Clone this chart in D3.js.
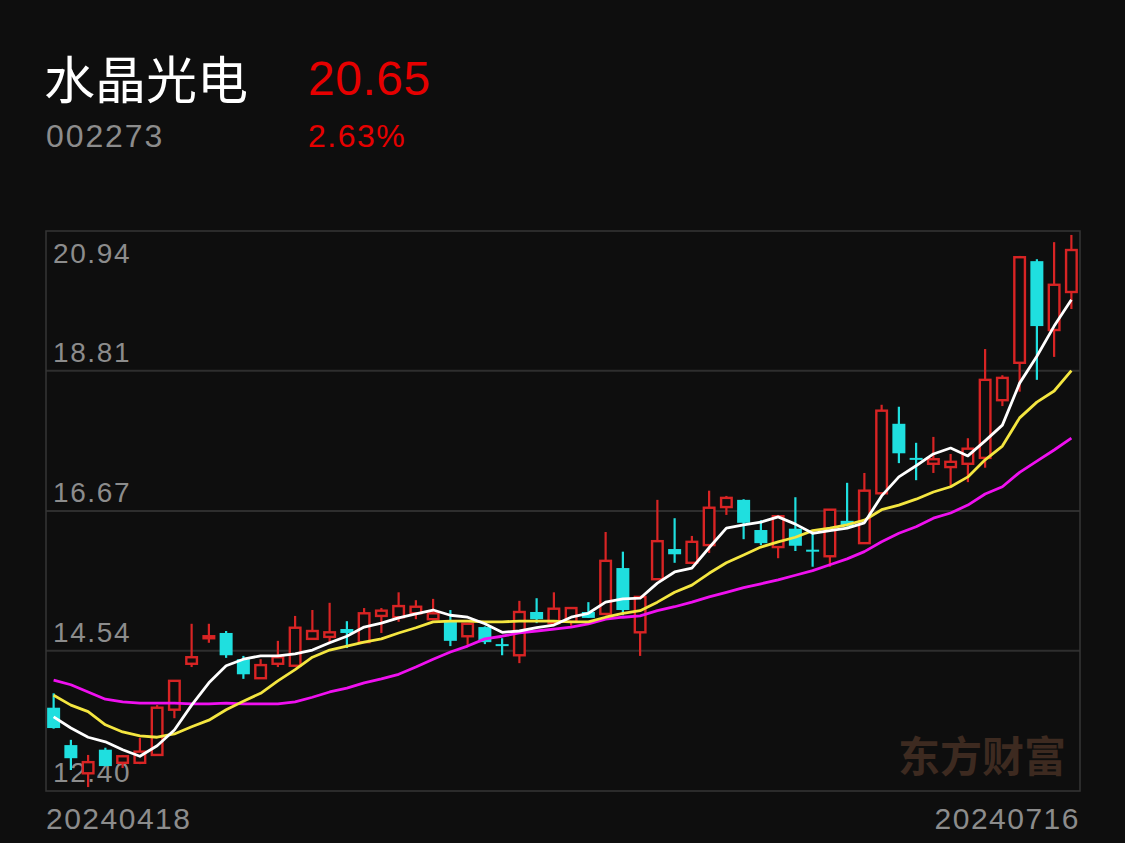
<!DOCTYPE html>
<html><head><meta charset="utf-8">
<script src="https://cdn.jsdelivr.net/npm/d3@7"></script>
<style>
html,body{margin:0;padding:0;background:#0e0e0e;}
svg{display:block;}
</style></head>
<body>
<script>
const stockName = "水晶光电";
const stockCode = "002273";
const lastPrice = "20.65";
const changePct = "2.63%";
const dates = ["20240418","20240419","20240422","20240423","20240424","20240425","20240426","20240429","20240430",
"20240506","20240507","20240508","20240509","20240510","20240513","20240514","20240515","20240516","20240517",
"20240520","20240521","20240522","20240523","20240524","20240527","20240528","20240529","20240530","20240531",
"20240603","20240604","20240605","20240606","20240607","20240611","20240612","20240613","20240614",
"20240617","20240618","20240619","20240620","20240621","20240624","20240625","20240626","20240627","20240628",
"20240701","20240702","20240703","20240704","20240705","20240708","20240709","20240710","20240711","20240712",
"20240715","20240716"];
const open  = [13.67,13.10,12.67,13.03,12.83,12.83,12.95,13.64,14.34,14.75,14.81,14.41,14.12,14.34,14.31,14.72,14.75,14.87,14.67,15.07,
15.05,15.11,15.02,14.98,14.76,14.90,14.64,14.47,15.13,14.96,14.98,15.13,15.10,15.80,14.82,15.63,16.09,15.88,16.15,16.73,
16.84,16.38,16.12,16.40,16.08,15.98,16.52,16.18,16.94,18.00,17.48,17.39,17.34,17.39,17.48,18.36,18.93,20.48,19.43,20.01];
const high  = [13.89,13.18,12.95,13.06,12.95,13.21,13.71,14.09,14.95,14.95,14.84,14.46,14.41,14.69,15.07,15.16,15.27,14.99,15.19,15.19,
15.43,15.31,15.33,15.16,14.96,14.91,14.73,15.30,15.34,15.43,15.19,15.28,16.35,16.05,15.36,16.84,16.56,16.29,16.98,16.90,
16.85,16.53,16.61,16.88,16.35,16.70,17.10,17.25,18.29,18.26,17.71,17.80,17.54,17.78,19.14,18.74,20.56,20.51,20.77,20.88];
const low   = [13.35,12.72,12.46,12.78,12.75,12.81,12.95,13.51,14.29,14.66,14.43,14.11,14.12,14.29,14.31,14.72,14.66,14.58,14.66,14.81,
14.98,15.02,15.02,14.61,14.60,14.64,14.47,14.35,14.96,14.96,14.92,15.04,15.10,15.08,14.46,15.63,15.88,15.88,16.03,16.61,
16.24,16.15,15.95,16.06,15.82,15.82,16.43,16.18,16.94,17.40,17.14,17.25,17.05,17.11,17.33,18.27,18.49,18.67,19.02,19.75];
const close = [13.36,12.90,12.84,12.78,12.93,13.00,13.67,14.08,14.44,14.76,14.47,14.18,14.32,14.44,14.89,14.84,14.82,14.81,15.11,15.15,
15.22,15.21,15.11,14.69,14.95,14.67,14.61,15.13,15.02,15.18,15.19,15.04,15.91,15.16,15.36,16.21,16.01,16.20,16.72,16.87,
16.49,16.18,16.59,16.14,16.05,16.69,16.44,16.98,18.20,17.55,17.45,17.46,17.42,17.62,18.67,18.70,20.54,19.49,20.12,20.65];
const ma5  = [13.53,13.36,13.22,13.15,13.03,12.93,13.09,13.33,13.71,14.05,14.31,14.41,14.46,14.46,14.49,14.55,14.66,14.76,14.90,14.96,
15.04,15.10,15.16,15.08,15.05,14.95,14.82,14.84,14.89,14.93,15.05,15.11,15.28,15.33,15.34,15.57,15.74,15.80,16.11,16.41,
16.46,16.50,16.58,16.47,16.33,16.37,16.41,16.49,16.90,17.19,17.36,17.54,17.63,17.51,17.74,17.98,18.62,19.03,19.49,19.89];
const ma10 = [13.86,13.71,13.61,13.41,13.30,13.24,13.22,13.27,13.38,13.48,13.64,13.77,13.89,14.08,14.25,14.44,14.55,14.61,14.67,14.72,
14.81,14.89,14.98,14.99,14.99,14.98,14.98,14.99,14.99,14.99,14.98,14.98,15.05,15.11,15.15,15.28,15.43,15.54,15.72,15.88,
16.00,16.12,16.20,16.27,16.37,16.41,16.46,16.53,16.69,16.76,16.85,16.96,17.04,17.19,17.45,17.66,18.09,18.33,18.50,18.81];
const ma20 = [14.09,14.02,13.91,13.80,13.76,13.74,13.74,13.74,13.73,13.73,13.74,13.73,13.73,13.73,13.76,13.83,13.91,13.97,14.05,14.11,
14.18,14.29,14.41,14.52,14.61,14.72,14.76,14.81,14.84,14.87,14.90,14.95,15.02,15.05,15.07,15.15,15.21,15.28,15.36,15.43,
15.50,15.56,15.62,15.69,15.76,15.85,15.94,16.05,16.20,16.33,16.43,16.56,16.64,16.76,16.93,17.04,17.26,17.43,17.60,17.78];
const yTickValues = [20.94,18.81,16.67,14.54,12.40];
const yTickLabels = ["20.94","18.81","16.67","14.54","12.40"];
const watermark = "东方财富";

const W = 1125, H = 843;
const plot = {left:46, right:1080, top:231, bottom:791};
const UP = "#d82424", DOWN = "#1fdfdf", BG = "#0e0e0e";

const svg = d3.select("body").append("svg").attr("width", W).attr("height", H);
svg.append("rect").attr("width", W).attr("height", H).attr("fill", BG);

const x = d3.scaleBand().domain(d3.range(dates.length)).range([plot.left - 1, plot.right]).padding(0);
const y = d3.scaleLinear().domain([12.40, 20.94]).range([plot.bottom, plot.top]);

// header
const latin = "'Liberation Sans', Arial, Helvetica, sans-serif";
svg.append("text").attr("x", 44).attr("y", 99).text(stockName)
  .attr("fill", "#ffffff").attr("font-size", 51).attr("font-family", "'Noto Sans CJK SC', sans-serif");
svg.append("text").attr("x", 308).attr("y", 95).text(lastPrice)
  .attr("fill", "#e60000").attr("font-size", 48).attr("letter-spacing", 0.5).attr("font-family", latin);
svg.append("text").attr("x", 46).attr("y", 147).text(stockCode)
  .attr("fill", "#8c8c8c").attr("font-size", 32).attr("letter-spacing", 1.9).attr("font-family", latin);
svg.append("text").attr("x", 308).attr("y", 147).text(changePct)
  .attr("fill", "#e60000").attr("font-size", 32).attr("letter-spacing", 1.5).attr("font-family", latin);

// watermark
svg.append("text").attr("x", 1066).attr("y", 772).attr("text-anchor", "end").text(watermark)
  .attr("fill", "#3d2a20").attr("font-size", 42).attr("font-weight", "bold")
  .attr("font-family", "'Noto Sans CJK SC', sans-serif");

// grid lines
svg.append("g").selectAll("line").data(yTickValues.slice(1, -1)).join("line")
  .attr("x1", plot.left).attr("x2", plot.right)
  .attr("y1", d => y(d)).attr("y2", d => y(d))
  .attr("stroke", "#2e2e2e").attr("stroke-width", 2);

// border
svg.append("rect").attr("x", plot.left).attr("y", plot.top)
  .attr("width", plot.right - plot.left).attr("height", plot.bottom - plot.top)
  .attr("fill", "none").attr("stroke", "#363636").attr("stroke-width", 1.5);

// y labels
svg.append("g").selectAll("text").data(yTickValues).join("text")
  .attr("x", 53)
  .attr("y", (d, i) => i === 0 ? y(d) + 32 : y(d) - 9)
  .text((d, i) => yTickLabels[i])
  .attr("fill", "#8c8c8c").attr("font-size", 28).attr("letter-spacing", 1.6).attr("font-family", latin);

// candles
const bw = 13;
const cx = i => x(i) + x.bandwidth() / 2;
const g = svg.append("g");
const idx = d3.range(dates.length);
g.selectAll("line.wick").data(idx).join("line")
  .attr("class", "wick")
  .attr("x1", cx).attr("x2", cx)
  .attr("y1", i => y(high[i])).attr("y2", i => y(low[i]))
  .attr("stroke", i => close[i] >= open[i] ? UP : DOWN).attr("stroke-width", 2.2);
g.selectAll("rect.body").data(idx).join("rect")
  .attr("class", "body")
  .attr("x", i => cx(i) - bw / 2 + (close[i] >= open[i] ? 1.2 : 0))
  .attr("width", i => close[i] >= open[i] ? bw - 2.4 : bw)
  .attr("y", i => y(Math.max(open[i], close[i])))
  .attr("height", i => Math.max(2, Math.abs(y(open[i]) - y(close[i]))))
  .attr("fill", i => close[i] >= open[i] ? BG : DOWN)
  .attr("stroke", i => close[i] >= open[i] ? UP : "none")
  .attr("stroke-width", 2.4);

// moving averages
const line = arr => d3.line().x((d, i) => cx(i)).y(d => y(d))(arr);
[[ma20, "#f010f0"], [ma10, "#f4e640"], [ma5, "#ffffff"]].forEach(([arr, col]) => {
  svg.append("path").attr("d", line(arr)).attr("fill", "none")
    .attr("stroke", col).attr("stroke-width", 2.8).attr("stroke-linejoin", "round");
});

// date labels
svg.append("text").attr("x", 46).attr("y", 829).text(dates[0])
  .attr("fill", "#8c8c8c").attr("font-size", 30).attr("letter-spacing", 1.5).attr("font-family", latin);
svg.append("text").attr("x", 1080).attr("y", 829).attr("text-anchor", "end").text(dates[dates.length - 1])
  .attr("fill", "#8c8c8c").attr("font-size", 30).attr("letter-spacing", 1.5).attr("font-family", latin);
</script>
</body></html>
